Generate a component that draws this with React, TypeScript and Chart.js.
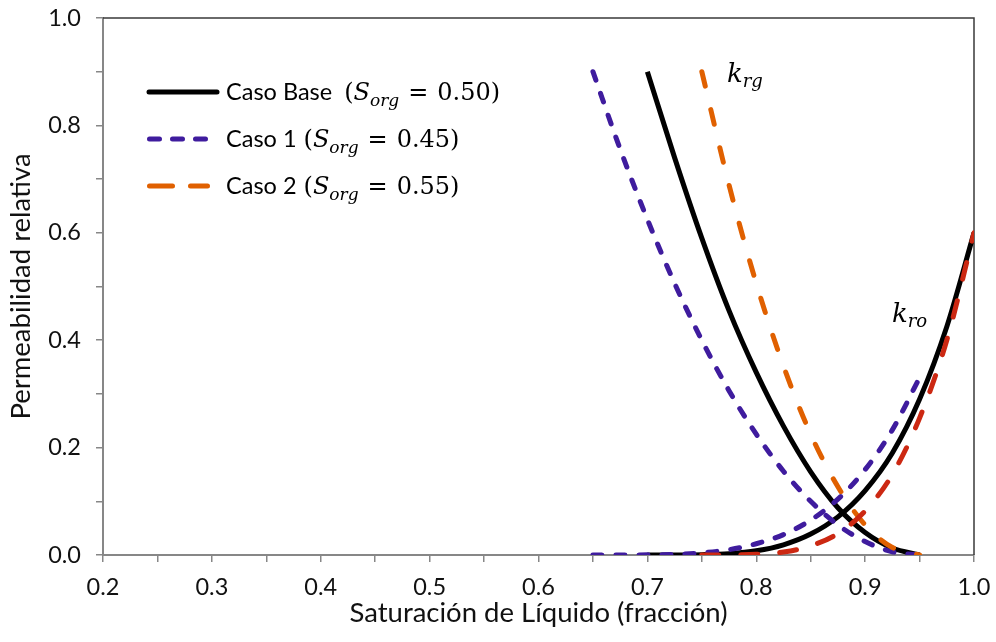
import React, { useEffect, useRef } from "react";
import { Chart, registerables } from "chart.js";
Chart.register(...registerables);

// ---- Data ----
const satBaseKrg = [0.70, 0.725, 0.75, 0.775, 0.80, 0.825, 0.85, 0.875, 0.90, 0.925, 0.95];
const krgBase = [0.90, 0.74, 0.59, 0.455, 0.34, 0.24, 0.155, 0.088, 0.042, 0.013, 0.0];
const satBaseKro = [0.70, 0.725, 0.75, 0.775, 0.80, 0.825, 0.85, 0.875, 0.90, 0.925, 0.95, 0.975, 1.0];
const kroBase = [0.0, 0.0001, 0.0006, 0.0025, 0.0078, 0.019, 0.039, 0.071, 0.12, 0.19, 0.29, 0.425, 0.60];

const satCaso1 = [0.65, 0.675, 0.70, 0.725, 0.75, 0.775, 0.80, 0.825, 0.85, 0.875, 0.90, 0.925, 0.95];
const krgCaso1 = [0.90, 0.756, 0.625, 0.506, 0.40, 0.306, 0.225, 0.156, 0.10, 0.056, 0.025, 0.006, 0.0];
const kroCaso1 = [0.0, 0.00002, 0.0003, 0.0013, 0.0041, 0.0099, 0.021, 0.038, 0.065, 0.104, 0.159, 0.233, 0.33];

const satCaso2Krg = [0.75, 0.775, 0.80, 0.825, 0.85, 0.875, 0.90, 0.925, 0.95];
const krgCaso2 = [0.90, 0.689, 0.506, 0.352, 0.225, 0.127, 0.056, 0.014, 0.0];
const satCaso2Kro = [0.75, 0.775, 0.80, 0.825, 0.85, 0.875, 0.90, 0.925, 0.95, 0.975, 1.0];
const kroCaso2 = [0.0, 0.0001, 0.0012, 0.0055, 0.017, 0.040, 0.082, 0.15, 0.255, 0.40, 0.60];

const legendNames = ["Caso Base", "Caso 1", "Caso 2"];
const legendSorg = ["0.50", "0.45", "0.55"];

const xTitle = "Saturación de Líquido (fracción)";
const yTitle = "Permeabilidad relativa";

const BLACK = "#000000";
const PURPLE = "#3f1c9e";
const ORANGE = "#e06000";
const RED = "#cc2812";
const AXIS = "#878787";

const SANS = "Lato";
const MATH = "'DejaVu Serif'";

function pts(xs: number[], ys: number[]) {
  return xs.map((x, i) => ({ x, y: ys[i] }));
}

const overlay = {
  id: "overlay",
  beforeDatasetsDraw(chart: any) {
    const { ctx, chartArea } = chart;
    ctx.save();
    ctx.strokeStyle = "#3a3a3a";
    ctx.lineWidth = 1.5;
    ctx.beginPath();
    ctx.moveTo(chartArea.left, chartArea.top);
    ctx.lineTo(chartArea.right, chartArea.top);
    ctx.lineTo(chartArea.right, chartArea.bottom);
    ctx.stroke();
    ctx.restore();
  },
  afterDatasetsDraw(chart: any) {
    const { ctx } = chart;
    ctx.save();
    const rows = [
      { y: 92, color: BLACK, dash: [] as number[], x0: 149, x1: 217, gap: 12 },
      { y: 139, color: PURPLE, dash: [10, 13], x0: 149.5, x1: 206, gap: 7 },
      { y: 186, color: ORANGE, dash: [23, 18], x0: 149.5, x1: 207.5, gap: 7 },
    ];
    rows.forEach((r, i) => {
      ctx.strokeStyle = r.color;
      ctx.lineWidth = 5;
      ctx.lineCap = "round";
      ctx.setLineDash(r.dash);
      ctx.beginPath();
      ctx.moveTo(r.x0, r.y);
      ctx.lineTo(r.x1, r.y);
      ctx.stroke();
      ctx.setLineDash([]);
      const yb = r.y + 8;
      ctx.fillStyle = "#000";
      ctx.textBaseline = "alphabetic";
      ctx.textAlign = "left";
      let x = 226;
      ctx.font = `23.5px ${SANS}`;
      ctx.fillText(legendNames[i], x, yb);
      x += ctx.measureText(legendNames[i]).width + r.gap;
      ctx.font = `24px ${MATH}`;
      ctx.fillText("(", x, yb);
      x += ctx.measureText("(").width;
      ctx.font = `italic 24px ${MATH}`;
      ctx.fillText("S", x, yb);
      x += ctx.measureText("S").width;
      ctx.font = `italic 17px ${MATH}`;
      ctx.fillText("org", x, yb + 6);
      x += ctx.measureText("org").width + 9;
      ctx.font = `24px ${MATH}`;
      ctx.fillText("=", x, yb);
      x += ctx.measureText("=").width + 9;
      ctx.fillText(legendSorg[i] + ")", x, yb);
    });
    // curve annotations
    const ann = [
      { x: 727, y: 82, sub: "rg" },
      { x: 892, y: 322, sub: "ro" },
    ];
    ann.forEach((a) => {
      ctx.font = `italic 26px ${MATH}`;
      ctx.fillText("k", a.x, a.y);
      const w = ctx.measureText("k").width;
      ctx.font = `italic 18px ${MATH}`;
      ctx.fillText(a.sub, a.x + w, a.y + 5);
    });
    ctx.restore();
  },
};

export default function App() {
  const ref = useRef<HTMLCanvasElement>(null);
  useEffect(() => {
    document.body.style.margin = "0";
    const mk = (label: string, xs: number[], ys: number[], color: string, dash: number[], order: number) => ({
      label,
      data: pts(xs, ys),
      borderColor: color,
      backgroundColor: color,
      borderWidth: 5,
      borderDash: dash,
      borderCapStyle: dash.length ? "round" : "butt",
      pointRadius: 0,
      cubicInterpolationMode: "monotone",
      fill: false,
      order,
    });
    const chart = new Chart(ref.current!, {
      type: "line",
      data: {
        datasets: [
          mk("Caso Base krg", satBaseKrg, krgBase, BLACK, [], 6),
          mk("Caso Base kro", satBaseKro, kroBase, BLACK, [], 5),
          mk("Caso 1 krg", satCaso1, krgCaso1, PURPLE, [9, 14], 4),
          mk("Caso 1 kro", satCaso1, kroCaso1, PURPLE, [9, 14], 3),
          mk("Caso 2 krg", satCaso2Krg, krgCaso2, ORANGE, [15, 24], 2),
          mk("Caso 2 kro", satCaso2Kro, kroCaso2, RED, [17, 22], 1),
        ] as any,
      },
      options: {
        animation: false,
        responsive: false,
        devicePixelRatio: 1,
        layout: { padding: { left: 0, right: 22, top: 18, bottom: 0 } },
        plugins: { legend: { display: false }, tooltip: { enabled: false } },
        scales: {
          x: {
            type: "linear",
            min: 0.2,
            max: 1.0,
            afterFit: (s: any) => {
              s.height = 87;
              s.paddingLeft = 0;
              s.paddingRight = 0;
            },
            ticks: {
              stepSize: 0.05,
              autoSkip: false,
              maxRotation: 0,
              padding: 11,
              color: "#111",
              font: { family: SANS, size: 23.5 },
              callback: (v: any) => {
                const n = Number(v);
                return Math.abs(n * 10 - Math.round(n * 10)) < 1e-6 ? n.toFixed(1) : "";
              },
            },
            grid: { drawOnChartArea: false, drawTicks: true, tickLength: 7, color: AXIS, lineWidth: 1.5 },
            border: { color: AXIS, width: 2 },
            title: { display: true, text: xTitle, color: "#111", font: { family: SANS, size: 27.5 }, padding: { top: 0, bottom: 12 } },
          },
          y: {
            type: "linear",
            min: 0,
            max: 1.0,
            afterFit: (s: any) => {
              s.width = 103;
              s.paddingTop = 0;
              s.paddingBottom = 0;
            },
            ticks: {
              stepSize: 0.1,
              autoSkip: false,
              padding: 15,
              color: "#111",
              font: { family: SANS, size: 23.5 },
              callback: (v: any) => {
                const n = Number(v);
                const k = Math.round(n * 10);
                return k % 2 === 0 ? n.toFixed(1) : "";
              },
            },
            grid: { drawOnChartArea: false, drawTicks: true, tickLength: 7, color: AXIS, lineWidth: 1.5 },
            border: { color: AXIS, width: 2 },
            title: { display: true, text: yTitle, color: "#111", font: { family: SANS, size: 27.5 }, padding: { top: 5, bottom: 0 } },
          },
        },
      } as any,
      plugins: [overlay],
    });
    return () => chart.destroy();
  }, []);
  return (
    <div style={{ width: 996, height: 642 }}>
      <canvas ref={ref} width={996} height={642} style={{ display: "block" }} />
    </div>
  );
}
